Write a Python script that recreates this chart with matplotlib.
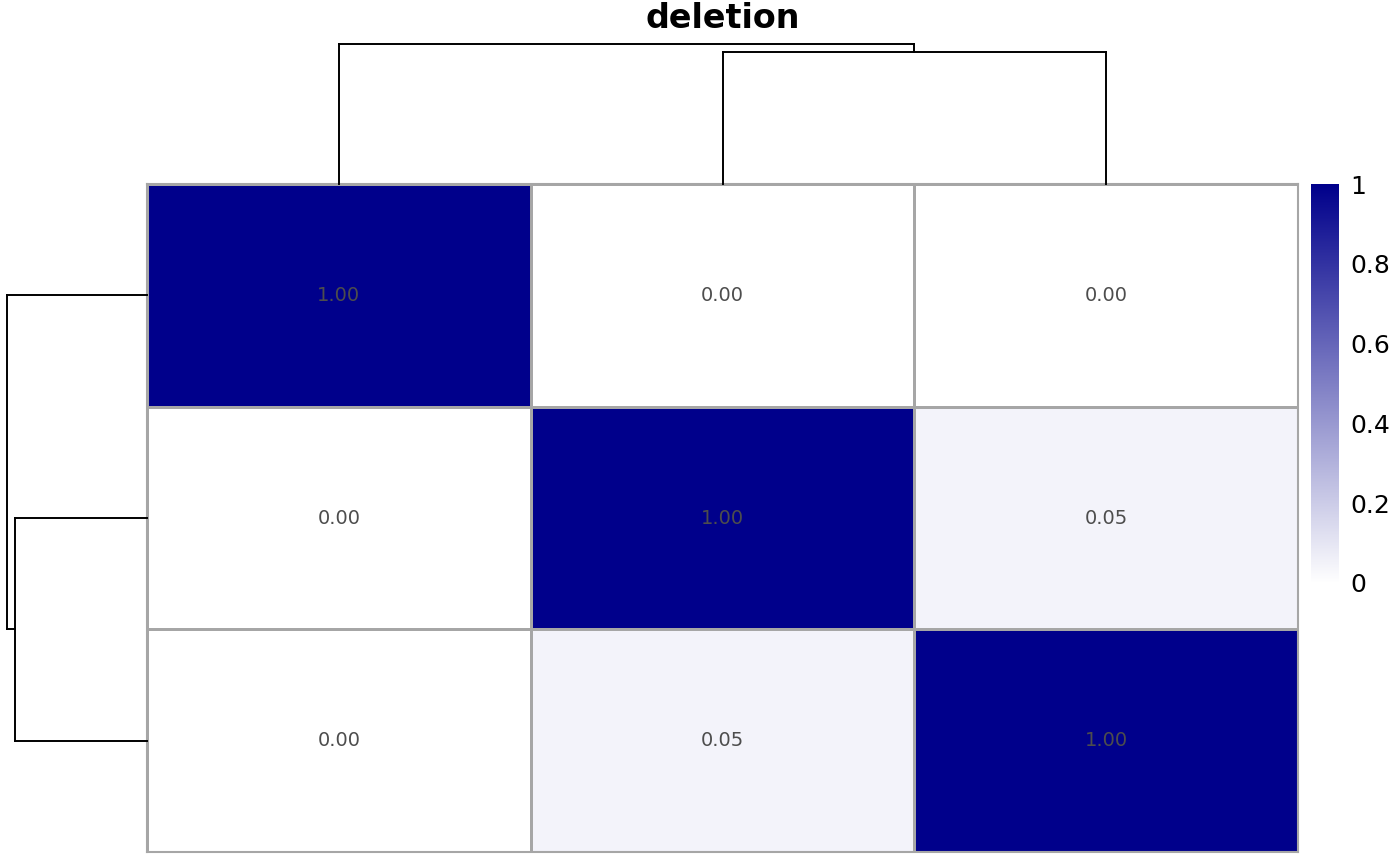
import numpy as np
import matplotlib.pyplot as plt
from matplotlib.colors import LinearSegmentedColormap

# similarity matrix (rows and columns already in dendrogram order)
values = np.array([[1.00, 0.00, 0.00],
                   [0.00, 1.00, 0.05],
                   [0.00, 0.05, 1.00]])

# dendrogram merges: (left node, right node, height); leaves are 0..2, new nodes 3, 4
merges = [(1, 2, 0.943), (0, 3, 1.0)]

title = "deletion"
cbar_ticks = [0, 0.2, 0.4, 0.6, 0.8, 1]
cbar_labels = ["0", "0.2", "0.4", "0.6", "0.8", "1"]

W, H = 1400, 866
fig = plt.figure(figsize=(W / 100, H / 100), dpi=100)


def px_axes(x0, y0, x1, y1):
    # pixel box (top-left origin) -> figure axes
    return fig.add_axes([x0 / W, 1 - y1 / H, (x1 - x0) / W, (y1 - y0) / H])


cmap = LinearSegmentedColormap.from_list("wb", ["#FFFFFF", "#00008B"])
n = values.shape[0]

# heatmap
ax = px_axes(147, 184, 1298, 852)
ax.pcolormesh(values, cmap=cmap, vmin=0, vmax=1, edgecolors="#A6A6A6", linewidth=1.0)
ax.set_xlim(0, n)
ax.set_ylim(n, 0)
for i in range(n):
    for j in range(n):
        ax.text(j + 0.5, i + 0.5, f"{values[i, j]:.2f}", ha="center", va="center",
                fontsize=14, color="#4D4D4D")
ax.set_xticks([])
ax.set_yticks([])
for s in ax.spines.values():
    s.set_edgecolor("#A6A6A6")
    s.set_linewidth(1.5)


def dendro_segments():
    pos = {i: i + 0.5 for i in range(n)}
    hgt = {i: 0.0 for i in range(n)}
    segs = []
    for k, (a, b, h) in enumerate(merges):
        node = n + k
        segs.append(((pos[a], hgt[a]), (pos[a], h)))
        segs.append(((pos[b], hgt[b]), (pos[b], h)))
        segs.append(((pos[a], h), (pos[b], h)))
        pos[node] = (pos[a] + pos[b]) / 2
        hgt[node] = h
    return segs


top = max(m[2] for m in merges)

# column dendrogram
axc = px_axes(147, 44, 1298, 184)
for (p0, h0), (p1, h1) in dendro_segments():
    axc.plot([p0, p1], [h0, h1], color="black", lw=1.4, clip_on=False,
             solid_capstyle="projecting")
axc.set_xlim(0, n)
axc.set_ylim(0, top)
axc.axis("off")

# row dendrogram
axr = px_axes(7, 184, 147, 852)
for (p0, h0), (p1, h1) in dendro_segments():
    axr.plot([h0, h1], [p0, p1], color="black", lw=1.4, clip_on=False,
             solid_capstyle="projecting")
axr.set_xlim(top, 0)
axr.set_ylim(n, 0)
axr.axis("off")

# title
fig.text((147 + 1298) / 2 / W, 1 - 18 / H, title, ha="center", va="center",
         fontsize=24, fontweight="bold")

# colorbar
axb = px_axes(1311, 184, 1339, 583)
grad = np.linspace(0, 1, 256).reshape(-1, 1)
axb.imshow(grad, cmap=cmap, aspect="auto", origin="lower", extent=[0, 1, 0, 1])
axb.set_xticks([])
axb.yaxis.tick_right()
axb.set_yticks(cbar_ticks)
axb.set_yticklabels(cbar_labels, fontsize=18)
axb.tick_params(axis="y", length=0, pad=8)
for s in axb.spines.values():
    s.set_visible(False)

fig.savefig("out.png", dpi=100, facecolor="white")
